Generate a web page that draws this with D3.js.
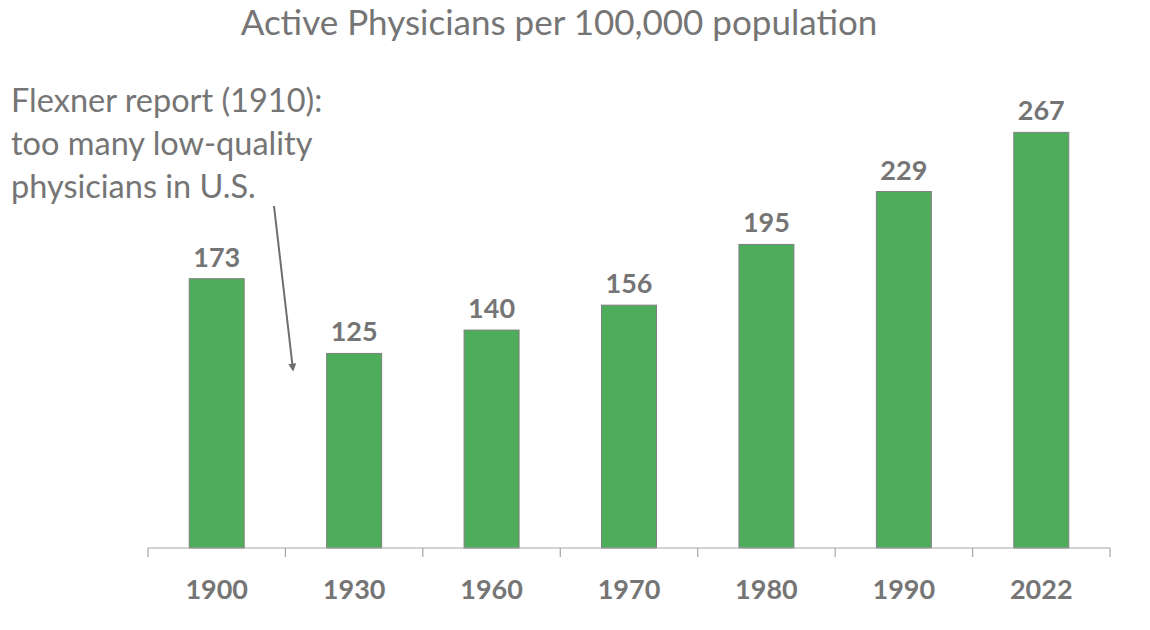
<!DOCTYPE html>
<html>
<head>
<meta charset="utf-8">
<script src="https://cdnjs.cloudflare.com/ajax/libs/d3/7.8.5/d3.min.js"></script>
<style>
  body { margin: 0; background: #fff; }
  text { font-family: Lato, "Open Sans", sans-serif; }
</style>
</head>
<body>
<div id="chart"></div>
<script>
// Chart data
var years = ["1900", "1930", "1960", "1970", "1980", "1990", "2022"];
var physicians = [173, 125, 140, 156, 195, 229, 267];
var noteLines = ["Flexner report (1910):", "too many low-quality", "physicians in U.S."];

var width = 1150, height = 630;
var margin = {left: 148, right: 40, top: 81, bottom: 82};
var textColor = "#757575";

var svg = d3.select("#chart").append("svg")
    .attr("width", width)
    .attr("height", height);

var x = d3.scaleBand()
    .domain(years)
    .range([margin.left, width - margin.right])
    .paddingInner(0.6)
    .paddingOuter(0.3);

var y = d3.scaleLinear()
    .domain([0, 300])
    .range([height - margin.bottom, margin.top]);

// Title
svg.append("text")
    .attr("x", 559)
    .attr("y", 34.5)
    .attr("text-anchor", "middle")
    .attr("font-size", 35)
    .attr("fill", textColor)
    .text("Active Physicians per 100,000 population");

// Bars
svg.selectAll(".bar")
    .data(physicians)
    .enter().append("rect")
    .attr("class", "bar")
    .attr("x", function(d, i) { return x(years[i]); })
    .attr("y", function(d) { return y(d); })
    .attr("width", x.bandwidth())
    .attr("height", function(d) { return y(0) - y(d); })
    .attr("fill", "#4EAD5B")
    .attr("stroke", "#7F7F7F")
    .attr("stroke-width", 1);

// Value labels
svg.selectAll(".val")
    .data(physicians)
    .enter().append("text")
    .attr("class", "val")
    .attr("x", function(d, i) { return x(years[i]) + x.bandwidth() / 2; })
    .attr("y", function(d) { return y(d) - 12; })
    .attr("text-anchor", "middle")
    .attr("font-size", 27)
    .attr("font-weight", "bold")
    .attr("fill", textColor)
    .text(function(d) { return d; });

// X axis: baseline with ticks at category boundaries
var axisY = y(0);
var xAxis = svg.append("g");
xAxis.append("line")
    .attr("x1", x.range()[0])
    .attr("x2", x.range()[1])
    .attr("y1", axisY)
    .attr("y2", axisY)
    .attr("stroke", "#A6A6A6")
    .attr("stroke-width", 1.2);

var bounds = d3.range(years.length + 1).map(function(i) { return x.range()[0] + i * (x.range()[1] - x.range()[0]) / years.length; });
xAxis.selectAll(".tick")
    .data(bounds)
    .enter().append("line")
    .attr("x1", function(d) { return d; })
    .attr("x2", function(d) { return d; })
    .attr("y1", axisY)
    .attr("y2", axisY + 9)
    .attr("stroke", "#A6A6A6")
    .attr("stroke-width", 1.2);

xAxis.selectAll(".lab")
    .data(years)
    .enter().append("text")
    .attr("x", function(d) { return x(d) + x.bandwidth() / 2; })
    .attr("y", 599)
    .attr("text-anchor", "middle")
    .attr("font-size", 27)
    .attr("font-weight", "bold")
    .attr("fill", textColor)
    .text(function(d) { return d; });

// Annotation
svg.selectAll(".note")
    .data(noteLines)
    .enter().append("text")
    .attr("class", "note")
    .attr("x", 11)
    .attr("y", function(d, i) { return 112 + i * 43; })
    .attr("font-size", 32.5)
    .attr("fill", textColor)
    .text(function(d) { return d; });

svg.append("defs").append("marker")
    .attr("id", "arrow")
    .attr("viewBox", "0 0 10 10")
    .attr("refX", 8)
    .attr("refY", 5)
    .attr("markerWidth", 4)
    .attr("markerHeight", 4)
    .attr("orient", "auto")
    .append("path")
    .attr("d", "M0,0 L10,5 L0,10 Z")
    .attr("fill", "#6E6E6E");

svg.append("line")
    .attr("x1", 274)
    .attr("y1", 206)
    .attr("x2", 293)
    .attr("y2", 370)
    .attr("stroke", "#6E6E6E")
    .attr("stroke-width", 2)
    .attr("marker-end", "url(#arrow)");
</script>
</body>
</html>
